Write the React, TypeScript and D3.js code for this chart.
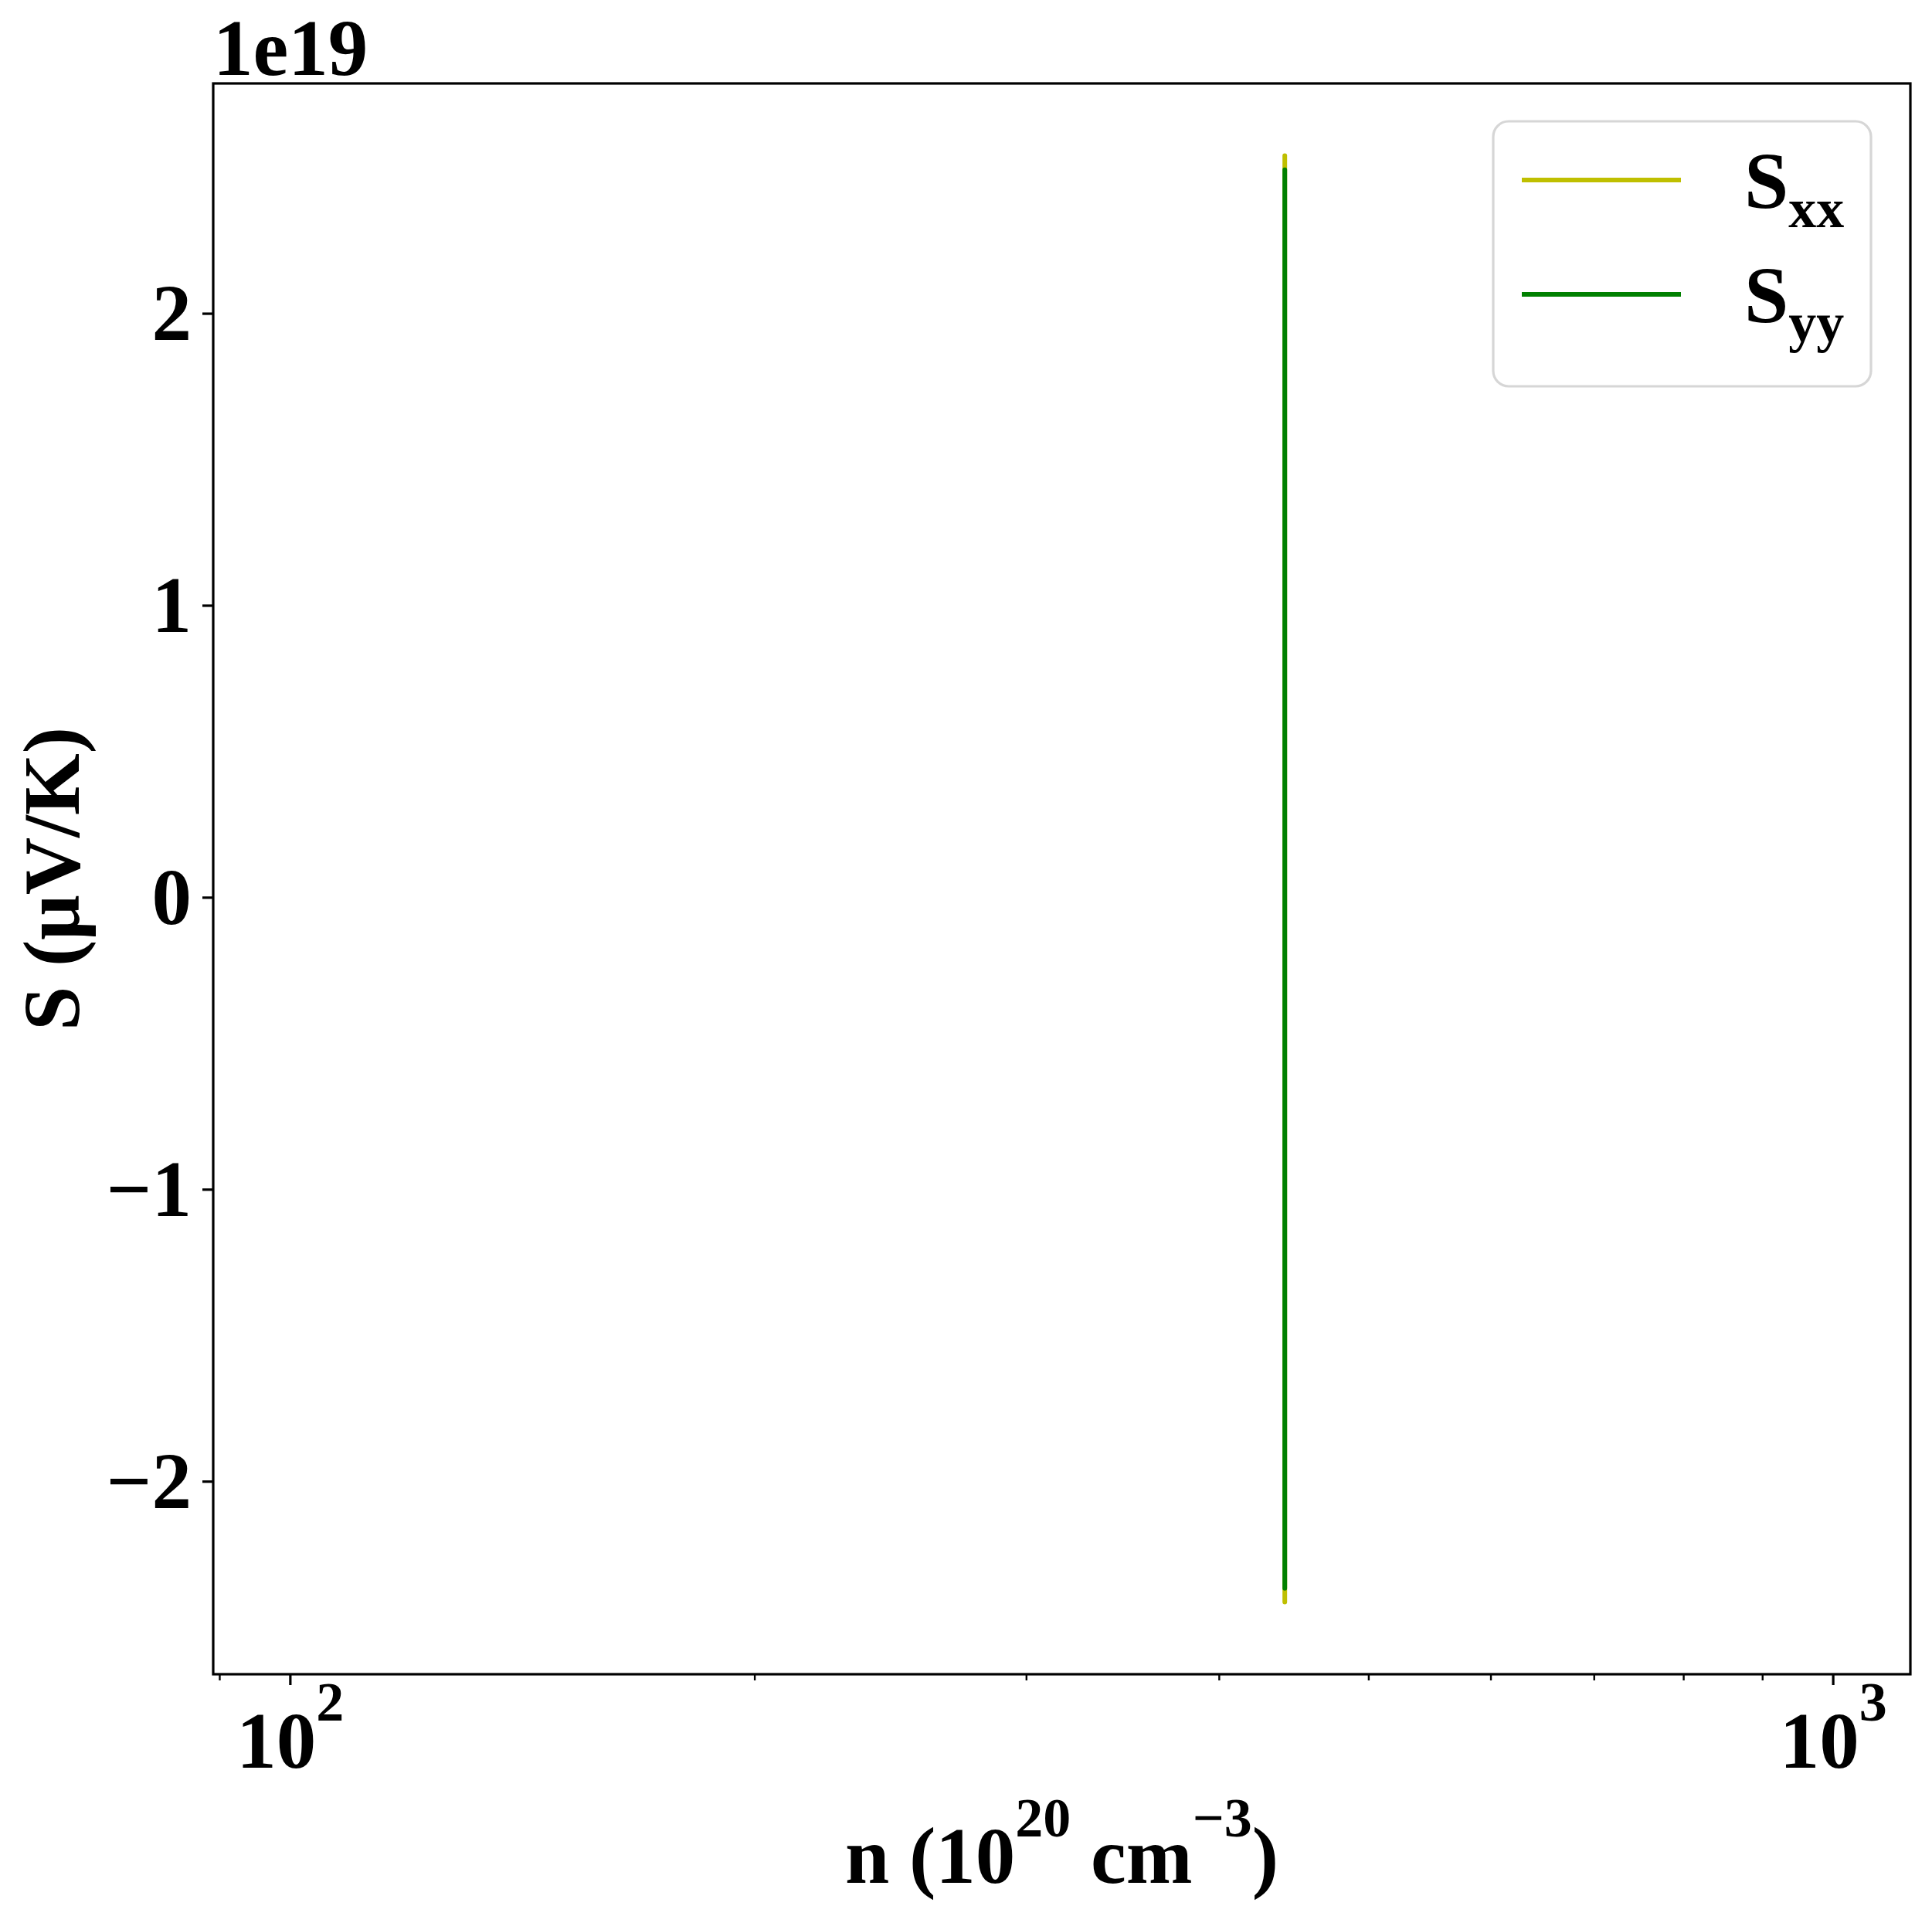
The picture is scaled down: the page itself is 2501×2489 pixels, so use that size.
import React from "react";
import * as d3 from "d3";

// ---- data ----
const nExtent = [100, 1000]; // computed carrier-concentration grid (10^20 cm^-3)
const nSpike = [441.1, 441.1];
const sxxValues = [2.541e19, -2.412e19];
const syyValues = [2.493e19, -2.365e19];
const yTickValues = [-2e19, -1e19, 0, 1e19, 2e19];
const yTickLabels = ["\u22122", "\u22121", "0", "1", "2"];
const xMajorTicks = [100, 1000];
const xMajorExp = ["2", "3"];
const xMinorTicks = [90, 200, 300, 400, 500, 600, 700, 800, 900];
const seriesNames = ["xx", "yy"];
const seriesColors = ["#bfbf00", "#008000"];

const W = 2501;
const H = 2489;
const M = { left: 276, right: 2473, top: 108, bottom: 2167 };
const FONT = "'Liberation Serif', 'Times New Roman', serif";
const FS = 103;
const SUB = 72;

export default function App() {
  const lx0 = Math.log10(nExtent[0]);
  const lx1 = Math.log10(nExtent[1]);
  const mx = (lx1 - lx0) * 0.05;
  const x = d3
    .scaleLog()
    .domain([Math.pow(10, lx0 - mx), Math.pow(10, lx1 + mx)])
    .range([M.left, M.right]);

  const allY = [...sxxValues, ...syyValues];
  const yMin = d3.min(allY) as number;
  const yMax = d3.max(allY) as number;
  const my = (yMax - yMin) * 0.05;
  const y = d3
    .scaleLinear()
    .domain([yMin - my, yMax + my])
    .range([M.bottom, M.top]);

  const line = d3
    .line<[number, number]>()
    .x((d) => x(d[0]))
    .y((d) => y(d[1]));

  const series = [sxxValues, syyValues].map((vals) =>
    vals.map((v, i) => [nSpike[i], v] as [number, number])
  );

  const legX = 1933;
  const legY = 157;
  const legW = 489;
  const legH = 343;

  return (
    <svg
      width={W}
      height={H}
      style={{ position: "absolute", left: 0, top: 0, display: "block", background: "#fff" }}
      fontFamily={FONT}
      fontWeight="bold"
    >
      <rect x={0} y={0} width={W} height={H} fill="#fff" />
      {/* data lines */}
      {series.map((s, i) => (
        <path
          key={i}
          d={line(s) || ""}
          fill="none"
          stroke={seriesColors[i]}
          strokeWidth={6}
          strokeLinecap="round"
        />
      ))}

      {/* frame */}
      <rect
        x={M.left}
        y={M.top}
        width={M.right - M.left}
        height={M.bottom - M.top}
        fill="none"
        stroke="#000"
        strokeWidth={3.2}
      />

      {/* x ticks */}
      {xMinorTicks.map((t) => (
        <line key={"mi" + t} x1={x(t)} x2={x(t)} y1={M.bottom} y2={M.bottom + 8} stroke="#000" strokeWidth={2.4} />
      ))}
      {xMajorTicks.map((t, i) => (
        <g key={"ma" + t}>
          <line x1={x(t)} x2={x(t)} y1={M.bottom} y2={M.bottom + 14} stroke="#000" strokeWidth={3.2} />
          <text x={x(t)} y={2288} textAnchor="middle" fontSize={FS}>
            <tspan>10</tspan>
            <tspan dy={-61} fontSize={SUB}>{xMajorExp[i]}</tspan>
          </text>
        </g>
      ))}

      {/* y ticks */}
      {yTickValues.map((t, i) => (
        <g key={"y" + i}>
          <line x1={M.left - 14} x2={M.left} y1={y(t)} y2={y(t)} stroke="#000" strokeWidth={3.2} />
          <text x={248} y={y(t) + 34} textAnchor="end" fontSize={FS}>
            {yTickLabels[i]}
          </text>
        </g>
      ))}

      {/* offset text */}
      <text x={276} y={97} fontSize={FS}>
        1e19
      </text>

      {/* x label */}
      <text x={(M.left + M.right) / 2} y={2437} textAnchor="middle" fontSize={FS}>
        <tspan>n (10</tspan>
        <tspan dy={-60} fontSize={SUB}>20</tspan>
        <tspan dy={60}>{"\u00a0cm"}</tspan>
        <tspan dy={-60} fontSize={SUB}>{"\u22123"}</tspan>
        <tspan dy={60}>)</tspan>
      </text>

      {/* y label */}
      <text
        transform={`translate(102, ${(M.top + M.bottom) / 2}) rotate(-90)`}
        textAnchor="middle"
        fontSize={FS}
      >
        S (μV/K)
      </text>

      {/* legend */}
      <rect
        x={legX}
        y={legY}
        width={legW}
        height={legH}
        rx={20}
        ry={20}
        fill="#fff"
        fillOpacity={0.8}
        stroke="#d6d6d6"
        strokeWidth={3.2}
      />
      {seriesNames.map((name, i) => {
        const ly = 233 + i * 148;
        return (
          <g key={name}>
            <line x1={1970} x2={2176} y1={ly} y2={ly} stroke={seriesColors[i]} strokeWidth={6} />
            <text x={2258} y={ly + 36} fontSize={FS}>
              <tspan>S</tspan>
              <tspan dy={25} fontSize={SUB}>{name}</tspan>
            </text>
          </g>
        );
      })}
    </svg>
  );
}
